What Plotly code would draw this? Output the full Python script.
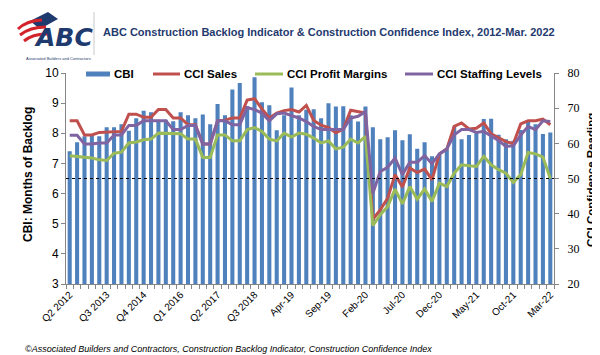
import plotly.graph_objects as go

categories = [
    "Q2 2012", "Q3 2012", "Q4 2012", "Q1 2013", "Q2 2013", "Q3 2013", "Q4 2013",
    "Q1 2014", "Q2 2014", "Q3 2014", "Q4 2014", "Q1 2015", "Q2 2015", "Q3 2015",
    "Q4 2015", "Q1 2016", "Q2 2016", "Q3 2016", "Q4 2016", "Q1 2017", "Q2 2017",
    "Q3 2017", "Q4 2017", "Q1 2018", "Q2 2018", "Q3 2018", "Q4 2018",
    "Jan-19", "Feb-19", "Mar-19", "Apr-19", "May-19", "Jun-19", "Jul-19", "Aug-19",
    "Sep-19", "Oct-19", "Nov-19", "Dec-19",
    "Jan-20", "Feb-20", "Mar-20", "Apr-20", "May-20", "Jun-20", "Jul-20", "Aug-20",
    "Sep-20", "Oct-20", "Nov-20", "Dec-20",
    "Jan-21", "Feb-21", "Mar-21", "Apr-21", "May-21", "Jun-21", "Jul-21", "Aug-21",
    "Sep-21", "Oct-21", "Nov-21", "Dec-21",
    "Jan-22", "Feb-22", "Mar-22",
]

cbi = [7.4, 7.7, 7.9, 7.95, 7.9, 8.2, 8.2, 8.3, 8.08, 8.5, 8.75, 8.7, 8.45, 8.45,
       8.4, 8.7, 8.6, 8.5, 8.62, 8.3, 8.97, 8.6, 9.45, 9.67, 8.9, 9.86, 9.03,
       8.93, 8.1, 8.6, 9.52, 8.6, 8.78, 8.8, 8.5, 9.0, 8.89, 8.9, 8.6, 8.39, 8.89,
       8.2, 7.8, 7.87, 8.1, 7.77, 7.97, 7.49, 7.7, 7.24, 7.3, 7.5,
       8.22, 7.8, 7.94, 8.05, 8.47, 8.48, 7.95, 7.8, 7.75, 8.11, 8.39, 8.3, 7.98, 8.03]

cci_sales = [66.4, 66.4, 62.4, 62.4, 63.1, 63.2, 63.2, 63.4, 68.3, 68.3, 67.4, 67.4,
             69.6, 69.6, 67.2, 67.2, 65.3, 65.3, 59.8, 59.8, 66.4, 66.6, 67.2, 67.2,
             72.3, 72.7, 69.8, 67.2, 68.6, 69.3, 69.6, 68.9, 70.8, 66.5, 65.2, 64.5,
             63.0, 64.0, 69.4, 68.9, 68.6, 38.4, 41.1, 44.4, 51.1, 47.6, 53.0, 51.7,
             52.7, 49.6, 57.0, 58.4, 64.8, 65.8, 64.1, 64.3, 65.8, 62.7, 61.5, 60.5,
             59.9, 65.5, 66.4, 66.4, 66.9, 65.3]

cci_margins = [56.5, 56.3, 55.9, 55.8, 55.3, 55.1, 57.2, 57.5, 60.1, 60.4, 61.0, 61.2,
               62.9, 62.9, 62.9, 62.7, 61.2, 61.2, 56.0, 56.0, 62.4, 62.4, 60.7, 60.7,
               63.9, 64.5, 63.4, 61.2, 60.7, 62.9, 61.8, 62.9, 62.6, 61.5, 60.1, 60.7,
               58.4, 58.9, 61.2, 60.1, 62.0, 36.6, 39.7, 42.0, 47.0, 42.8, 47.7, 44.1,
               47.0, 43.5, 48.7, 47.7, 51.5, 53.9, 53.6, 53.4, 56.3, 53.9, 52.5, 51.5,
               48.9, 51.1, 57.4, 57.0, 56.1, 50.0]

cci_staffing = [62.3, 62.3, 59.8, 59.8, 60.1, 60.1, 62.4, 62.4, 65.1, 65.1, 66.4, 66.4,
                66.4, 66.4, 63.9, 63.9, 65.1, 65.1, 59.8, 59.8, 66.4, 66.4, 65.3, 65.3,
                70.2, 69.6, 68.6, 66.4, 68.4, 68.6, 67.9, 67.2, 66.2, 64.8, 63.9, 63.9,
                64.1, 63.9, 67.2, 67.7, 69.0, 45.8, 52.0, 53.2, 55.8, 51.1, 54.6, 54.6,
                56.5, 54.2, 57.0, 58.4, 62.4, 63.9, 63.9, 63.1, 63.4, 62.0, 60.8, 59.1,
                59.3, 62.4, 64.8, 63.9, 66.4, 66.2]

neutral_level = 50
label_step = 5

title_text = "ABC Construction Backlog Indicator & Construction Confidence Index, 2012-Mar. 2022"
source_text = "©Associated Builders and Contractors, Construction Backlog Indicator, Construction Confidence Index"

W, H = 600, 355
L, R, T, B = 58, 546, 65, 276


def px(x):
    return (x - L) / (R - L)


def py(y):
    return (B - y) / (B - T)


idx = list(range(len(categories)))

BLUE = "#4F81BD"
RED = "#C0504D"
GREEN = "#9BBB59"
PURPLE = "#8064A2"
AXIS = "#868686"
NAVY = "#1F3A6E"
SANS = "Liberation Sans, Arial, sans-serif"
SERIF = "Liberation Serif, Times New Roman, serif"

fig = go.Figure()
fig.add_trace(go.Bar(x=idx, y=cbi, marker=dict(color=BLUE, line=dict(width=0)),
                     name="CBI", yaxis="y"))
for vals, col, nm in [(cci_sales, RED, "CCI Sales"),
                      (cci_margins, GREEN, "CCI Profit Margins"),
                      (cci_staffing, PURPLE, "CCI Staffing Levels")]:
    fig.add_trace(go.Scatter(x=idx, y=vals, mode="lines", name=nm, yaxis="y2",
                             line=dict(color=col, width=3)))

shapes = []
ann = []

# neutral dotted line
shapes.append(dict(type="line", xref="paper", yref="y2", x0=0, x1=1,
                   y0=neutral_level, y1=neutral_level,
                   line=dict(color="#000000", width=1, dash="dot")))

# manual legend
leg_y = 66
shapes.append(dict(type="rect", xref="paper", yref="paper", x0=px(78), x1=px(102),
                   y0=py(68.5), y1=py(63.5), fillcolor=BLUE, line=dict(width=0)))
ann.append(dict(x=px(104), y=py(leg_y), text="<b>CBI</b>"))
for x0, x1, col, nm in [(145, 172, RED, "CCI Sales"),
                        (247, 275, GREEN, "CCI Profit Margins"),
                        (397, 425, PURPLE, "CCI Staffing Levels")]:
    shapes.append(dict(type="line", xref="paper", yref="paper", x0=px(x0), x1=px(x1),
                       y0=py(leg_y), y1=py(leg_y), line=dict(color=col, width=3)))
    ann.append(dict(x=px(x1 + 1.5), y=py(leg_y), text="<b>" + nm + "</b>"))
for a in ann:
    a.update(xref="paper", yref="paper", xanchor="left", yanchor="middle",
             showarrow=False, font=dict(family=SANS, size=11.5, color="#000000"))

# axis titles
ann.append(dict(xref="paper", yref="paper", x=px(20), y=py(167), text="<b>CBI: Months of Backlog</b>",
                textangle=-90, showarrow=False, xanchor="center", yanchor="middle",
                font=dict(family=SANS, size=12, color="#000000")))
ann.append(dict(xref="paper", yref="paper", x=px(583), y=py(172), text="<b>CCI Confidence Reading</b>",
                textangle=-90, showarrow=False, xanchor="center", yanchor="middle",
                font=dict(family=SANS, size=11.5, color="#000000")))

# header title
ann.append(dict(xref="paper", yref="paper", x=px(93), y=py(24), text="<b>" + title_text + "</b>",
                showarrow=False, xanchor="left", yanchor="middle",
                font=dict(family=SANS, size=11, color=NAVY)))
# separator
shapes.append(dict(type="line", xref="paper", yref="paper", x0=px(86), x1=px(86),
                   y0=py(4), y1=py(47), line=dict(color="#C8C8C8", width=1)))

# logo approximation
shapes.append(dict(type="path", xref="paper", yref="paper",
                   path="M %f,%f L %f,%f L %f,%f L %f,%f Z" % (px(22), py(13), px(40), py(4),
                                                              px(50), py(11), px(32), py(21)),
                   fillcolor=NAVY, line=dict(width=0)))
for ax0, ay0, ax1, ay1 in [(10, 21, 34, 12), (12, 27, 38, 19), (16, 33, 40, 26)]:
    shapes.append(dict(type="path", xref="paper", yref="paper",
                       path="M %f,%f Q %f,%f %f,%f" % (px(ax0), py(ay0), px((ax0 + ax1) / 2 - 3),
                                                      py((ay0 + ay1) / 2 - 4), px(ax1), py(ay1)),
                       line=dict(color="#D2232A", width=3)))
ann.append(dict(xref="paper", yref="paper", x=px(55), y=py(30), text="<b><i>ABC</i></b>",
                showarrow=False, xanchor="center", yanchor="middle",
                font=dict(family="DejaVu Sans, Arial", size=25, color=NAVY)))
ann.append(dict(xref="paper", yref="paper", x=px(50), y=py(50), text="Associated Builders and Contractors",
                showarrow=False, xanchor="center", yanchor="middle",
                font=dict(family=SANS, size=4, color=NAVY)))

# footer
ann.append(dict(xref="paper", yref="paper", x=px(15), y=py(341), text="<i>" + source_text + "</i>",
                showarrow=False, xanchor="left", yanchor="middle",
                font=dict(family=SANS, size=9, color="#000000")))

fig.update_layout(
    width=W, height=H,
    margin=dict(l=L, r=W - R, t=T, b=H - B, pad=0),
    paper_bgcolor="#FFFFFF", plot_bgcolor="#FFFFFF",
    showlegend=False,
    bargap=0.45,
    shapes=shapes, annotations=ann,
    xaxis=dict(range=[-0.5, len(categories) - 0.5], tickmode="array",
               tickvals=idx[::label_step], ticktext=categories[::label_step],
               tickangle=-45, ticks="", showline=True, linecolor=AXIS, linewidth=1,
               showgrid=False, zeroline=False,
               tickfont=dict(family=SANS, size=10, color="#000000"),
               minor=dict(tickmode="linear", tick0=-0.5, dtick=1, ticks="outside",
                          ticklen=4, tickcolor=AXIS, showgrid=False)),
    yaxis=dict(range=[3, 10], dtick=1, showline=True, linecolor=AXIS, linewidth=1,
               ticks="outside", ticklen=4, tickcolor=AXIS, showgrid=False, zeroline=False,
               tickfont=dict(family=SANS, size=12, color="#000000")),
    yaxis2=dict(range=[20, 80], dtick=10, overlaying="y", side="right", showline=True,
                linecolor=AXIS, linewidth=1, ticks="outside", ticklen=4, tickcolor=AXIS,
                showgrid=False, zeroline=False, ticklabelstandoff=6,
                tickfont=dict(family=SERIF, size=12, color="#000000")),
)

fig.write_html("out.html")
